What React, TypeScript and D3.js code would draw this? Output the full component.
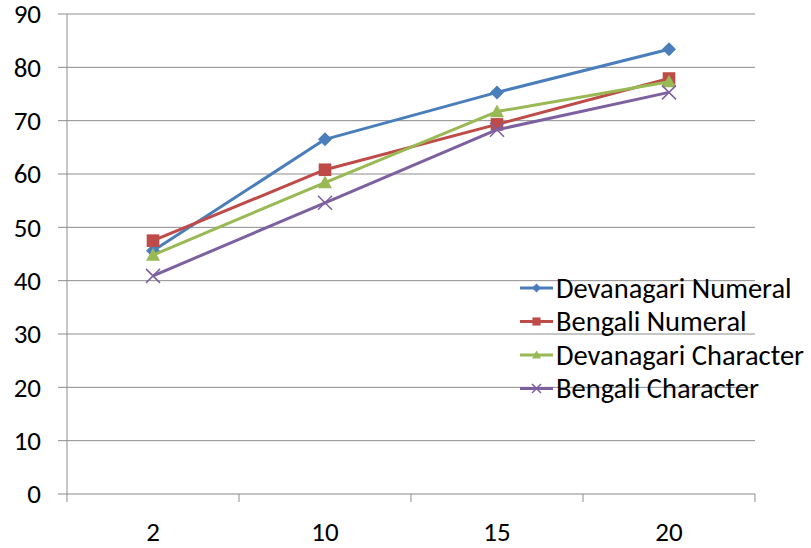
import React from "react";
import * as d3 from "d3";

const categories = ["2", "10", "15", "20"];
const seriesNames = ["Devanagari Numeral", "Bengali Numeral", "Devanagari Character", "Bengali Character"];
const devanagariNumeral = [45.6, 66.5, 75.3, 83.4];
const bengaliNumeral = [47.5, 60.8, 69.3, 77.9];
const devanagariCharacter = [44.8, 58.4, 71.7, 77.3];
const bengaliCharacter = [40.9, 54.6, 68.3, 75.3];
const yTicks = [0, 10, 20, 30, 40, 50, 60, 70, 80, 90];

const colors = ["#4A7EBB", "#BE4B48", "#98B954", "#7D60A0"];
const markers = ["diamond", "square", "triangle", "x"];

const W = 811, H = 548;
const left = 67, right = 755, top = 14, bottom = 494;
const FONT = "Carlito, Calibri, 'Open Sans', 'Liberation Sans', sans-serif";

function Marker({ type, x, y, color, s }: { type: string; x: number; y: number; color: string; s: number }) {
  if (type === "diamond") {
    return <path d={`M${x},${y - s}L${x + s},${y}L${x},${y + s}L${x - s},${y}Z`} fill={color} />;
  }
  if (type === "square") {
    return <rect x={x - s * 0.9} y={y - s * 0.9} width={s * 1.8} height={s * 1.8} fill={color} />;
  }
  if (type === "triangle") {
    return <path d={`M${x},${y - s}L${x + s},${y + s * 0.8}L${x - s},${y + s * 0.8}Z`} fill={color} />;
  }
  return (
    <path d={`M${x - s},${y - s}L${x + s},${y + s}M${x - s},${y + s}L${x + s},${y - s}`} stroke={color} strokeWidth={1.5} fill="none" />
  );
}

export default function App() {
  const x = d3.scaleBand<string>().domain(categories).range([left, right]);
  const y = d3.scaleLinear().domain([0, 90]).range([bottom, top]);
  const data = [devanagariNumeral, bengaliNumeral, devanagariCharacter, bengaliCharacter];
  const line = d3.line<number>().x((_, i) => x(categories[i])! + x.bandwidth() / 2).y((d) => y(d));
  const boundaries = [...categories.map((c) => x(c)!), right];

  return (
    <svg width={W} height={H} style={{ position: "absolute", left: 0, top: 0, background: "#fff" }} fontFamily={FONT}>
      {yTicks.map((t) => (
        <g key={t}>
          <line x1={58} x2={right} y1={y(t)} y2={y(t)} stroke={t === 0 ? "#b0b0b0" : "#8c8c8c"} strokeWidth={t === 0 ? 1.5 : 1} />
          <text x={41} y={y(t)} dy="0.35em" textAnchor="end" fontSize={27} fill="#000">{t}</text>
        </g>
      ))}
      <line x1={left} x2={left} y1={top} y2={502} stroke="#8c8c8c" strokeWidth={1} />
      {boundaries.slice(1).map((b, i) => (
        <line key={i} x1={b} x2={b} y1={bottom} y2={502} stroke="#8c8c8c" strokeWidth={1} />
      ))}
      {categories.map((c) => (
        <text key={c} x={x(c)! + x.bandwidth() / 2} y={541} textAnchor="middle" fontSize={27} fill="#000">{c}</text>
      ))}
      {data.map((vals, si) => (
        <g key={si}>
          <path d={line(vals)!} fill="none" stroke={colors[si]} strokeWidth={3} strokeLinejoin="round" />
          {vals.map((v, i) => (
            <Marker key={i} type={markers[si]} x={x(categories[i])! + x.bandwidth() / 2} y={y(v)} color={colors[si]} s={7} />
          ))}
        </g>
      ))}
      {seriesNames.map((n, i) => {
        const ly = 288 + i * 33.5;
        return (
          <g key={n}>
            <line x1={520} x2={553} y1={ly} y2={ly} stroke={colors[i]} strokeWidth={3} />
            <Marker type={markers[i]} x={536.5} y={ly} color={colors[i]} s={4.5} />
            <text x={556} y={ly} dy="0.35em" fontSize={28.5} fill="#000">{n}</text>
          </g>
        );
      })}
    </svg>
  );
}
